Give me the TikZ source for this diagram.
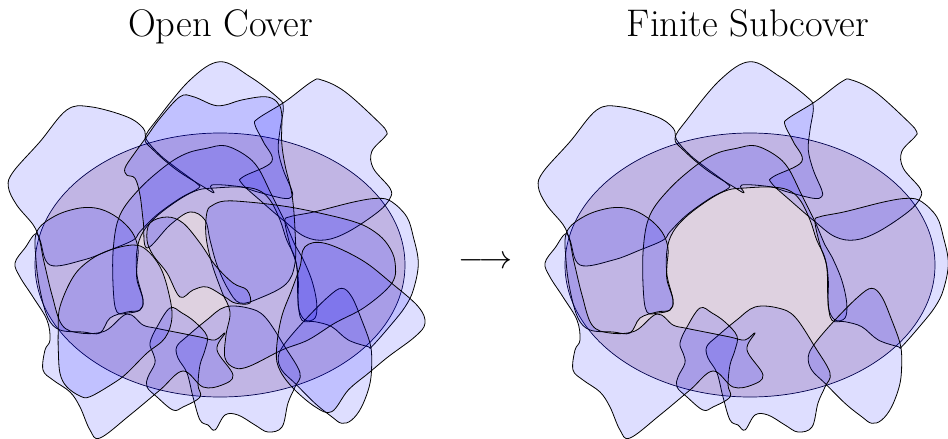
\documentclass[tikz,border=0pt]{standalone}
\usepackage{graphicx}
\definecolor{ellfill}{RGB}{222,209,224}
\tikzset{
  blob/.style={draw=black, line width=0.8pt, fill=blue, fill opacity=0.13, line join=round},
  ellshape/.style={draw=black!80!blue, line width=0.7pt, fill=ellfill},
  title/.style={font=\fontsize{38.5}{46}\selectfont, inner sep=0pt, anchor=base},
}
\newcommand\blobpath[1]{\path[blob] plot[smooth cycle, tension=0.6] coordinates {#1};}
\newcommand\subcover{%
 % TL
 \blobpath{(90,106.7)(126.7,116.7)(143.3,128.3)(146.7,140)(160,155)(176.7,168.3)(196.7,183.3)(198.3,188.3)(180,198.3)(156.7,215)(140,231.7)(133.3,240)(110,250)(83.3,260)(50,265)(40,240)(33.3,225)(16.7,205)(8.3,186.7)(13.3,171.7)(40,141.7)(66.7,110)}
 % T
 \blobpath{(220,61.7)(250,76.7)(276.7,96.7)(283.3,106.7)(280,130)(278.3,150)(283.3,170)(291.7,190)(291.7,196.7)(283.3,198.3)(256.7,191.7)(240,186.7)(211.7,185)(214,192.7)(203.3,186.7)(176.7,170)(153.3,150)(145,138.3)(156.7,120)(190,80)}
 % TR
 \blobpath{(321.7,80)(345,91.7)(378.3,121.7)(386.7,131.7)(385,136.7)(371.7,151.7)(373.3,168.3)(390,188.3)(390,198.3)(378.3,211.7)(348.3,231.7)(325,240)(305,236.7)(285,221.7)(261.7,201.7)(241.7,183.3)(243.3,176.7)(271.7,161.7)(263.3,141.7)(255,125)(258.3,118.3)(285,101.7)(311.7,81.7)}
 % C (arch)
 \blobpath{(117,312)(113.3,290)(113.3,248.3)(120,215)(140,188.3)(166.7,165)(186.7,153.3)(206.7,148.3)(225,145.7)(245,155)(258.3,168.3)(271.7,195)(285,221.7)(295,245)(302,257)(311.7,280)(316.7,303)(315,318)(305,320)(298.3,307)(298.3,280)(295,258)(286.7,240)(280,220)(270,200)(258,190)(240,187)(215,188)(198,190)(180,199)(157,216)(143,232)(137,250)(137,275)(143,300)(140,310)(128,313)}
 % B
 \blobpath{(36.7,232)(55,216)(80,208)(100,209)(118,218)(132,232)(138,248)(137,265)(137,280)(143,300)(140,310)(127,312)(110,318)(100,333)(83,332)(60,330)(48,318)(40,290)(36,260)}
 % R
 \blobpath{(285,221.7)(290,216.7)(315,211.7)(355,201.7)(378.3,198.3)(391.7,201.7)(406.7,216.7)(413.3,236.7)(418.3,263.3)(413.3,290)(405,307)(391.7,324)(371.7,346.7)(368.3,346.7)(348.3,340)(331.7,326.7)(315,321.7)(301.7,320)(298,300)(296.7,266.7)(290,245)}
 % BR
 \blobpath{(341.7,288.3)(351.7,296.7)(361.7,320)(370,343.3)(371.7,360)(370,383.3)(361.7,406.7)(351.7,420)(341.7,423.3)(331.7,416.7)(315,403.3)(295,383.3)(281.7,370)(278.3,356.7)(285,343.3)(305,320)(328.3,296.7)}
 % bottom middle
 \blobpath{(176.7,346.7)(186.7,336.7)(206.7,320)(225,307)(248,308)(265,317)(285,347)(300,373)(295,387)(288,403)(282,427)(268,432)(255,425)(238,415)(225,415)(215,430)(208,425)(200,420)(193,397)(187,373)(178,358)}
 % small bottom
 \blobpath{(170,308)(182,313)(195,322)(207,336)(205,350)(200,365)(198,385)(200,397)(183,407)(173,410)(157,397)(147,387)(148,377)(155,363)(153,353)(150,343)(157,327)}
 % E (left, with spike)
 \blobpath{(15,263)(25,248)(37,234)(44,262)(52,295)(62,325)(80,333)(105,331)(127,314)(143,325)(155,328)(180,333)(200,337)(215,340)(225,333)(217,350)(233,375)(222,385)(203,387)(183,371)(160,390)(130,415)(100,438)(90,430)(80,407)(70,392)(53,380)(43,370)(45,350)(50,340)(47,320)(33,297)(20,277)}
}
\begin{document}
\begin{tikzpicture}[x=1pt,y=-1pt]
\useasboundingbox (0,0) rectangle (948,439);
\node[title] (t1) at (220.5,36) {Open Cover};
\node[title] (t2) at (748,36) {Finite Subcover};
\node[inner sep=0pt] (arr) at (485.5,262) {\scalebox{3.3}{$\longrightarrow$}};
\begin{scope}
 \draw[ellshape] (220,265) ellipse [x radius=185pt, y radius=132pt];
 \subcover
 % further sets of the open cover
 \blobpath{(180,96.7)(193.3,96.7)(213.3,105)(225,105)(241.7,100)(265,96.7)(276.7,101.7)(281.7,113.3)(281.7,141.7)(285,165)(292,195)(295,230)(295,263)(286,284)(260,298)(240,303)(228,289)(217,265)(210,240)(205,220)(190,212)(170,225)(147,248)(143.3,221.7)(140,195)(135,178.3)(126.7,175)(125,168)(133.3,155)(146.7,136.7)(160,118.3)}
 \blobpath{(207,212)(213,205)(225,201)(248,202)(283,206)(315,212)(355,222)(375,232)(388,245)(395,262)(392,283)(365,307)(335,323)(308,340)(282,350)(250,366)(235,368)(225,358)(226,335)(230,312)(222,292)(212,264)(206,236)}
 \blobpath{(150,223)(167,217)(183,223)(200,243)(215,265)(233,283)(247,290)(250,303)(235,303)(225,297)(207,287)(193,290)(180,297)(167,273)(153,255)(147,240)}
 \blobpath{(58.3,330)(60,306.7)(73.3,276.7)(90,260)(110,250)(133.3,245)(146.7,250)(160,266.7)(168,290)(172,316.7)(165,338)(146.7,353.3)(126.7,373.3)(113.3,383.3)(90,396.7)(80,396)(66.7,386.7)(60,373.3)(58.3,350)}
 \blobpath{(305,246.7)(325,243.3)(361.7,260)(391.7,283.3)(418.3,306.7)(425,323.3)(415,336.7)(388.3,356.7)(368.3,373.3)(348.3,390)(331.7,411.7)(315,406.7)(291.7,386.7)(278.3,366.7)(276.7,346.7)(281.7,316.7)(291.7,290)(300,266.7)}
\end{scope}
\begin{scope}[xshift=530pt]
 \draw[ellshape] (220,265) ellipse [x radius=185pt, y radius=132pt];
 \subcover
\end{scope}
\end{tikzpicture}
\end{document}
